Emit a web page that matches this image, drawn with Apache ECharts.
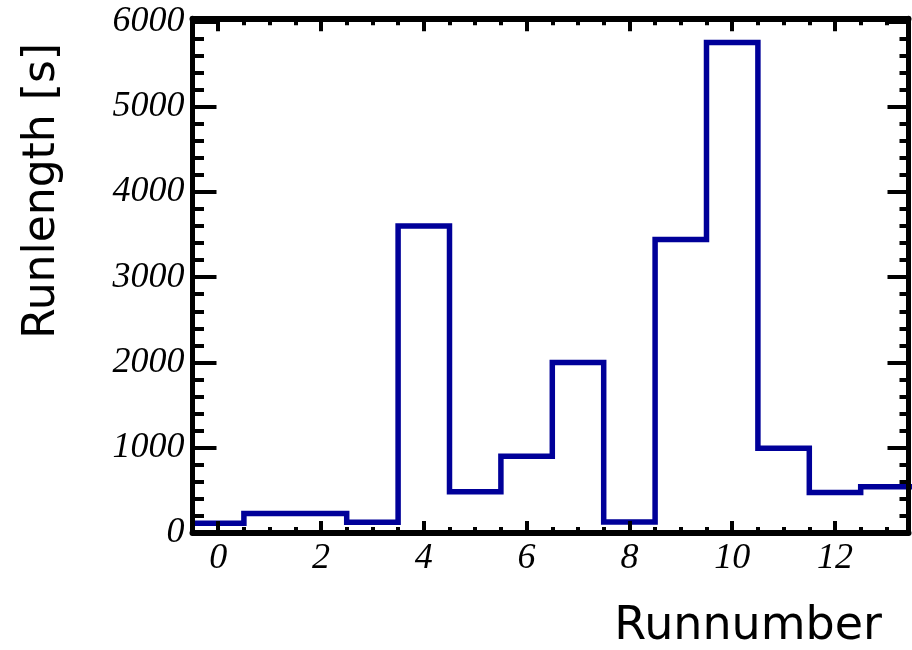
<!DOCTYPE html>
<html>
<head>
<meta charset="utf-8">
<script src="https://cdn.jsdelivr.net/npm/echarts@6/dist/echarts.min.js"></script>
<style>
html,body{margin:0;padding:0;background:#fff;}
#chart{width:912px;height:650px;}
</style>
</head>
<body>
<div id="chart"></div>
<script>
// ---- data ----
const runNumbers = [0, 1, 2, 3, 4, 5, 6, 7, 8, 9, 10, 11, 12, 13];
const runLength = [115, 230, 230, 125, 3600, 485, 900, 2000, 130, 3440, 5750, 995, 475, 543];
const xMajorTicks = [0, 2, 4, 6, 8, 10, 12];
const xMinorTicks = [0.5, 1, 1.5, 2.5, 3, 3.5, 4.5, 5, 5.5, 6.5, 7, 7.5, 8.5, 9, 9.5, 10.5, 11, 11.5, 12.5, 13];
const yMajorTicks = [0, 1000, 2000, 3000, 4000, 5000, 6000];
const yMinorTicks = [200, 400, 600, 800, 1200, 1400, 1600, 1800, 2200, 2400, 2600, 2800,
  3200, 3400, 3600, 3800, 4200, 4400, 4600, 4800, 5200, 5400, 5600, 5800];
const xTitle = 'Runnumber';
const yTitle = 'Runlength [s]';

// histogram outline: bin edges
const stepData = runNumbers.map((n, i) => [n - 0.5, runLength[i]]);
stepData.push([runNumbers[runNumbers.length - 1] + 0.5, runLength[runLength.length - 1]]);

const X_MIN = -0.5, X_MAX = 13.43, Y_MIN = 0, Y_MAX = 6035;
const labelFont = { fontFamily: 'Liberation Serif', fontStyle: 'italic', fontSize: 36, color: '#000' };
const plain = v => String(v);

function xAx(position, ticks, len, showLine, showLabel) {
  return {
    type: 'value', position: position, min: X_MIN, max: X_MAX, z: 10,
    axisLine: { show: showLine, onZero: false, lineStyle: { color: '#000', width: 6 } },
    axisTick: { show: true, inside: true, length: len, customValues: ticks, lineStyle: { color: '#000', width: 4 } },
    axisLabel: showLabel ? Object.assign({ show: true, customValues: ticks, margin: 8, formatter: plain }, labelFont) : { show: false },
    splitLine: { show: false }
  };
}
function yAx(position, ticks, len, showLine, showLabel) {
  return {
    type: 'value', position: position, min: Y_MIN, max: Y_MAX, z: 10,
    axisLine: { show: showLine, onZero: false, lineStyle: { color: '#000', width: 5 } },
    axisTick: { show: true, inside: true, length: len, customValues: ticks, lineStyle: { color: '#000', width: 4 } },
    axisLabel: showLabel ? Object.assign({ show: true, customValues: ticks, margin: 8, formatter: plain }, labelFont) : { show: false },
    splitLine: { show: false }
  };
}

const chart = echarts.init(document.getElementById('chart'), null, { renderer: 'canvas' });
chart.setOption({
  animation: false,
  backgroundColor: '#fff',
  grid: { left: 192.5, right: 3.5, top: 18.3, bottom: 117, containLabel: false, outerBoundsMode: 'none' },
  xAxis: [
    xAx('bottom', xMajorTicks, 12, true, true),
    xAx('bottom', xMinorTicks, 6, false, false),
    xAx('top', xMajorTicks, 13, true, false),
    xAx('top', xMinorTicks, 7, false, false)
  ],
  yAxis: [
    yAx('left', yMajorTicks, 24, true, true),
    yAx('left', yMinorTicks, 11.5, false, false),
    yAx('right', yMajorTicks, 21, true, false),
    yAx('right', yMinorTicks, 9, false, false)
  ],
  series: [{
    type: 'line',
    xAxisIndex: 0, yAxisIndex: 0,
    step: 'end',
    data: stepData,
    showSymbol: false,
    symbol: 'none',
    clip: true,
    z: 2,
    lineStyle: { color: '#000099', width: 5.5, join: 'miter' }
  }],
  graphic: [
    {
      type: 'text', x: 882, y: 627,
      style: { text: xTitle, fontFamily: 'DejaVu Sans', fontSize: 46, fill: '#000', textAlign: 'right', textVerticalAlign: 'middle' }
    },
    {
      type: 'text', x: 43, y: 43, rotation: Math.PI / 2,
      style: { text: yTitle, fontFamily: 'DejaVu Sans', fontSize: 44, fill: '#000', textAlign: 'right', textVerticalAlign: 'middle' }
    }
  ]
});
</script>
</body>
</html>
